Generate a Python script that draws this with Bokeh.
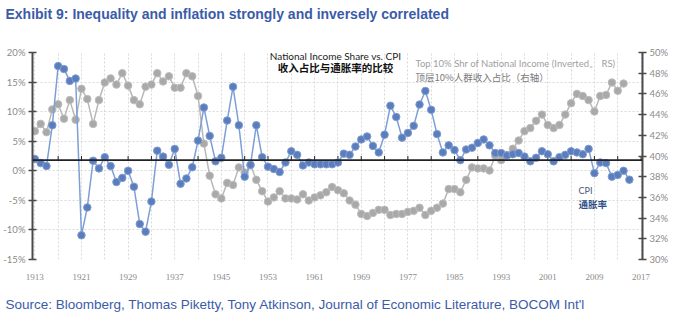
from bokeh.plotting import figure
from bokeh.models import Range1d, LinearAxis, FixedTicker, Label, Span, Title
from bokeh.embed import file_html
from bokeh.resources import INLINE

# ---------------- data ----------------
cpi_years = list(range(1913, 2016))
cpi = [2.0, 1.3, 0.8, 7.7, 17.7, 17.2, 15.2, 15.6, -10.9, -6.2,
       1.7, 0.4, 2.3, 0.8, -1.9, -1.2, 0.0, -2.7, -9.0, -10.3,
       -5.2, 3.4, 2.4, 1.0, 3.7, -2.2, -1.3, 0.6, 5.1, 10.7,
       5.9, 1.6, 2.2, 8.5, 14.2, 7.7, -1.0, 1.0, 7.7, 2.3,
       0.7, 0.3, -0.2, 1.4, 3.3, 2.7, 0.9, 1.4, 1.1, 1.1,
       1.1, 1.1, 1.4, 2.9, 2.7, 4.1, 5.3, 5.8, 4.2, 3.1,
       6.1, 11.0, 9.1, 5.6, 6.4, 7.6, 11.2, 13.5, 10.3, 6.2,
       3.1, 4.3, 3.5, 1.8, 3.6, 3.9, 4.7, 5.3, 4.3, 3.0,
       3.0, 2.6, 2.8, 3.0, 2.4, 1.6, 2.2, 3.3, 2.8, 1.6,
       2.3, 2.7, 3.3, 3.1, 2.8, 3.7, -0.4, 1.4, 1.3, -1.0,
       -0.7, 0.0, -1.5]

top10_years = list(range(1913, 2015))
top10 = [42.4, 43.1, 42.3, 44.5, 45.0, 43.6, 45.4, 43.5, 46.5, 45.5,
         43.1, 45.4, 47.1, 47.5, 46.9, 48.0, 46.8, 45.4, 45.0, 46.7,
         46.9, 48.0, 47.2, 47.7, 46.6, 46.6, 48.0, 47.7, 45.8, 41.2,
         38.1, 36.3, 35.9, 37.4, 37.2, 38.9, 38.4, 39.1, 37.7, 36.6,
         35.6, 36.0, 36.6, 35.9, 35.9, 35.8, 36.3, 35.7, 36.0, 36.2,
         36.5, 37.0, 36.7, 36.4, 35.7, 35.3, 34.4, 34.2, 34.5, 34.8,
         34.8, 34.3, 34.4, 34.4, 34.6, 34.7, 35.0, 34.3, 34.7, 35.0,
         35.4, 36.8, 36.8, 36.5, 37.7, 38.9, 38.8, 38.8, 38.6, 40.0,
         39.6, 40.1, 40.7, 41.5, 42.4, 42.7, 43.4, 44.0, 43.0, 42.7,
         43.0, 44.0, 45.1, 46.0, 45.8, 45.4, 44.3, 45.8, 45.9, 47.1,
         46.3, 47.0]

x_tick_years = [1913, 1921, 1929, 1937, 1945, 1953, 1961, 1969, 1977,
                1985, 1993, 2001, 2009, 2017]
left_ticks = [-15, -10, -5, 0, 5, 10, 15, 20]
right_ticks = [30, 32, 34, 36, 38, 40, 42, 44, 46, 48, 50]
grid_years = list(range(1913, 2018, 4))
base_level = 1.8

title_text = "Exhibit 9: Inequality and inflation strongly and inversely correlated"
source_text = "Source: Bloomberg, Thomas Piketty, Tony Atkinson, Journal of Economic Literature, BOCOM Int'l"

# ---------------- figure ----------------
p = figure(width=677, height=323, output_backend="svg", toolbar_location=None,
           x_range=Range1d(1912.6, 2017.25), y_range=Range1d(-15, 20),
           min_border_left=32, min_border_right=35, min_border_top=52,
           min_border_bottom=61, background_fill_color="white",
           border_fill_color="white", outline_line_color=None)
p.extra_y_ranges = {"right": Range1d(30, 50)}

blue_txt = "#3b5ba9"
# spacer panel between frame and title (pushes title to the top edge)
p.add_layout(Title(text=" ", text_font_size="1px", standoff=28), "above")
p.title = Title(text=title_text, text_font="Liberation Sans", text_font_size="14px",
                text_font_style="bold", text_color=blue_txt, align="left",
                offset=-27, standoff=0)
p.add_layout(Title(text=source_text, text_font="Liberation Sans", text_font_size="13.5px",
                   text_font_style="normal", text_color=blue_txt, align="left",
                   offset=-27, standoff=24), "below")

axis_col = "#4a4a4a"
lab_col = "#8a8a8a"

p.yaxis.ticker = FixedTicker(ticks=left_ticks)
p.yaxis.major_label_overrides = {t: f"{t}%" for t in left_ticks}
ax_r = LinearAxis(y_range_name="right", ticker=FixedTicker(ticks=right_ticks))
ax_r.major_label_overrides = {t: f"{t}%" for t in right_ticks}
p.add_layout(ax_r, "right")

for ax in (p.yaxis[0], ax_r):
    ax.axis_line_color = axis_col
    ax.axis_line_width = 2
    ax.major_tick_line_color = axis_col
    ax.major_tick_line_width = 1.5
    ax.major_tick_in = 4
    ax.major_tick_out = 4
    ax.minor_tick_line_color = None
    ax.major_label_text_font = "Lato"
    ax.major_label_text_font_size = "9.5px"
    ax.major_label_text_color = lab_col
    ax.major_label_standoff = 3

p.xaxis.ticker = FixedTicker(ticks=x_tick_years)
p.xaxis.axis_line_color = None
p.xaxis.major_tick_line_color = None
p.xaxis.minor_tick_line_color = None
p.xaxis.major_label_text_font = "Liberation Serif"
p.xaxis.major_label_text_font_size = "9px"
p.xaxis.major_label_text_color = lab_col
p.xaxis.major_label_standoff = 8

p.xgrid.ticker = FixedTicker(ticks=grid_years)
p.ygrid.ticker = FixedTicker(ticks=left_ticks)
for g in (p.xgrid[0], p.ygrid[0]):
    g.grid_line_color = "#d9d9d9"
    g.grid_line_dash = "2 2"
    g.grid_line_width = 1

# base line with small ticks
p.add_layout(Span(location=base_level, dimension="width", line_color="#222222", line_width=1.6))
p.segment(x0=grid_years[1:], y0=[base_level] * (len(grid_years) - 1),
          x1=grid_years[1:], y1=[base_level + 0.7] * (len(grid_years) - 1),
          line_color="#222222", line_width=1)

# series
p.line(top10_years, top10, y_range_name="right", line_color="#b8b8b8", line_width=1.5)
p.scatter(top10_years, top10, y_range_name="right", size=7.5,
          fill_color="#a9a9a9", line_color="#bdbdbd", line_width=1)
p.line(cpi_years, cpi, line_color="#7c9fd6", line_width=1.5)
p.scatter(cpi_years, cpi, size=7.5, fill_color="#5b7dbd", line_color="#7f9dd0", line_width=1)

# in-chart annotations (screen units relative to plot frame)
def lab(x, y, text, size, color, font="Lato", style="normal", align="left", baseline="middle"):
    p.add_layout(Label(x=x, y=y, x_units="screen", y_units="screen", text=text,
                       text_font=font, text_font_size=size, text_color=color,
                       text_font_style=style, text_align=align, text_baseline=baseline))

lab(335 - 32, 262 - 58, "National Income Share vs. CPI", "10px", "#222222", align="center")
lab(335 - 32, 262 - 70, "收入占比与通胀率的比较", "10.5px", "#111111", font="Noto Sans CJK SC", style="bold", align="center")
lab(415 - 32, 262 - 66, "Top 10% Shr of National Income (Inverted。 RS)", "9.5px", "#a0a0a0")
lab(415 - 32, 262 - 79, "顶层10%人群收入占比（右轴）", "9.5px", "#7a7a7a", font="Noto Sans CJK SC")
lab(578 - 32, 262 - 193, "CPI", "9px", "#4a5a78")
lab(578 - 32, 262 - 206, "通胀率", "9.5px", "#2f4f86", font="Noto Sans CJK SC", style="bold")

open("out.html", "w").write(file_html(p, INLINE))
